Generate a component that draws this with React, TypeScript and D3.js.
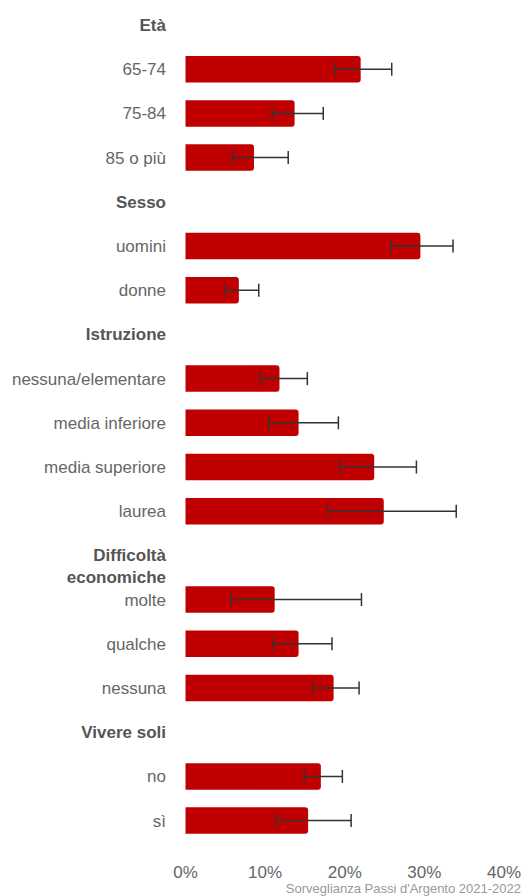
import React from "react";
import * as d3 from "d3";

const rows = [
  { label: "Età", header: true },
  { label: "65-74" },
  { label: "75-84" },
  { label: "85 o più" },
  { label: "Sesso", header: true },
  { label: "uomini" },
  { label: "donne" },
  { label: "Istruzione", header: true },
  { label: "nessuna/elementare" },
  { label: "media inferiore" },
  { label: "media superiore" },
  { label: "laurea" },
  { label: "Difficoltà\neconomiche", header: true },
  { label: "molte" },
  { label: "qualche" },
  { label: "nessuna" },
  { label: "Vivere soli", header: true },
  { label: "no" },
  { label: "sì" },
];

const categories = ["65-74", "75-84", "85 o più", "uomini", "donne", "nessuna/elementare", "media inferiore", "media superiore", "laurea", "molte", "qualche", "nessuna", "no", "sì"];
const values = [22.0, 13.7, 8.6, 29.5, 6.7, 11.8, 14.2, 23.7, 24.9, 11.2, 14.2, 18.6, 17.0, 15.4];
const lower = [18.8, 10.9, 5.9, 25.8, 5.0, 9.4, 10.5, 19.4, 17.9, 5.7, 11.0, 16.0, 14.9, 11.4];
const upper = [25.9, 17.3, 12.9, 33.6, 9.2, 15.3, 19.2, 29.0, 34.0, 22.1, 18.4, 21.8, 19.7, 20.8];
const ticks = [0, 10, 20, 30, 40];
const caption = "Sorveglianza Passi d'Argento 2021-2022";

const W = 523;
const H = 896;
const FONT = "'Liberation Sans', Arial, sans-serif";

export default function App() {
  const x = d3.scaleLinear().domain([0, 40]).range([185.5, 504]);
  const y = d3
    .scaleBand<number>()
    .domain(d3.range(rows.length))
    .range([25 - 22.1, 25 - 22.1 + 44.2 * rows.length])
    .paddingInner(0.4)
    .paddingOuter(0.2);
  const center = (i: number) => (y(i) as number) + y.bandwidth() / 2;
  const bh = 26.5;
  const r = 3;

  const barPath = (x0: number, x1: number, yc: number) => {
    const t = yc - bh / 2;
    const b = yc + bh / 2;
    return `M${x0},${t}H${x1 - r}Q${x1},${t} ${x1},${t + r}V${b - r}Q${x1},${b} ${x1 - r},${b}H${x0}Z`;
  };

  let j = -1;
  return (
    <div style={{ position: "absolute", left: 0, top: 0 }}>
      <svg width={W} height={H} style={{ display: "block", background: "#fff" }}>
        {rows.map((row, i) => {
          const yc = center(i);
          if (row.header) {
            const lines = row.label.split("\n");
            return (
              <text key={i} x={166} y={yc} textAnchor="end" fontFamily={FONT} fontSize={17} fontWeight="bold" fill="#555">
                {lines.map((l, k) => (
                  <tspan key={k} x={166} dy={k === 0 ? 6 : 22}>
                    {l}
                  </tspan>
                ))}
              </text>
            );
          }
          j += 1;
          const v = values[j];
          return (
            <g key={i}>
              <text x={166} y={yc + 6} textAnchor="end" fontFamily={FONT} fontSize={17} fill="#666">
                {categories[j]}
              </text>
              <path d={barPath(x(0), x(v), yc)} fill="#c00000" />
              <g stroke="#333" strokeWidth={1.5} fill="none">
                <line x1={x(lower[j])} x2={x(upper[j])} y1={yc} y2={yc} />
                <line x1={x(lower[j])} x2={x(lower[j])} y1={yc - 6.5} y2={yc + 6.5} />
                <line x1={x(upper[j])} x2={x(upper[j])} y1={yc - 6.5} y2={yc + 6.5} />
              </g>
            </g>
          );
        })}
        {ticks.map((t) => (
          <text key={t} x={x(t)} y={878} textAnchor="middle" fontFamily={FONT} fontSize={17} fill="#666">
            {`${t}%`}
          </text>
        ))}
        <text x={521} y={893} textAnchor="end" fontFamily={FONT} fontSize={13} fill="#999">
          {caption}
        </text>
      </svg>
    </div>
  );
}
